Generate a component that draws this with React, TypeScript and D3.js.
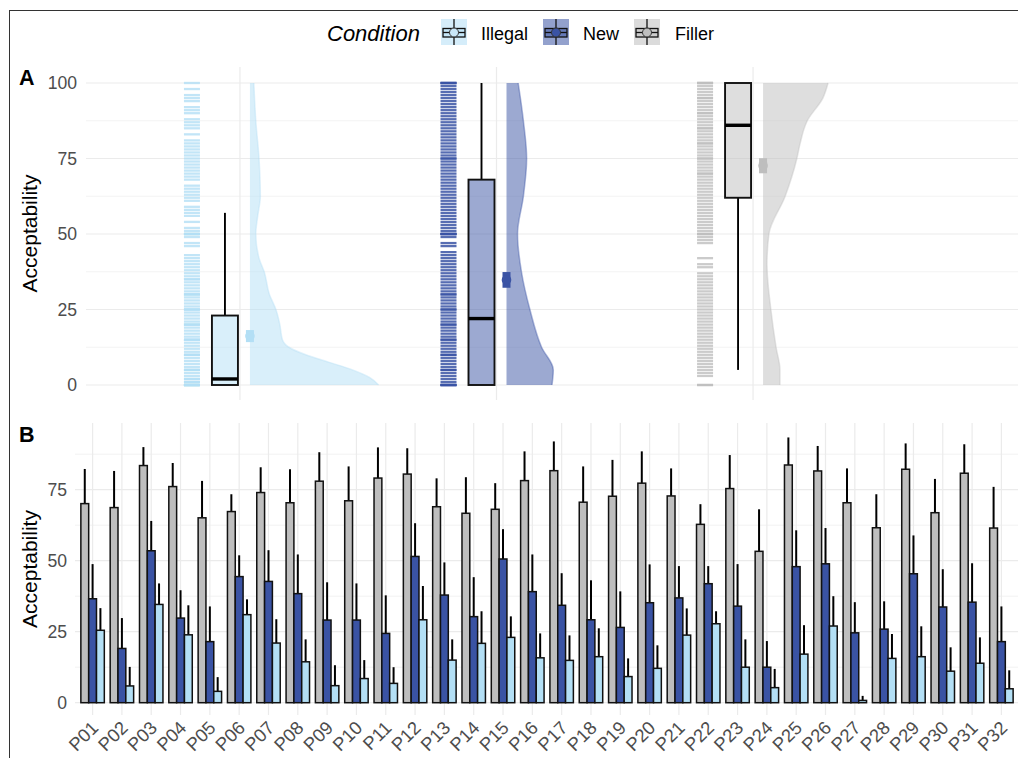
import React, { useEffect, useRef } from 'react';
import * as d3 from 'd3';

// ---- data ----
const conditions = ['Illegal', 'New', 'Filler'];
const condColors: Record<string, string> = { Illegal: '#b3dff5', New: '#3a53a4', Filler: '#bebebe' };

// panel A: single ratings (rug)
const illegalRatings = [
  100, 98, 96, 95, 94, 92, 91, 90, 88, 87, 86, 85, 83, 81, 80, 79, 78, 77, 76, 75, 74, 73, 72, 71, 70,
  69, 68, 66, 65, 64, 63, 62, 61, 59, 58, 57, 56, 54, 52, 51, 50, 50, 50, 50, 49, 47, 46, 43, 42, 41, 40,
  39, 38, 37, 36, 35, 35, 34, 33, 32, 31, 30, 30, 30, 29, 28, 27, 26, 25, 25, 25, 24, 23, 22, 21, 20, 20,
  20, 19, 18, 17, 16, 15, 15, 15, 14, 13, 12, 11, 10, 10, 10, 9, 8, 7, 6, 5, 5, 5, 4, 3, 2, 2, 1, 1,
  0, 0, 0, 0, 0, 0
];
const newRatings = [
  100, 100, 100, 99, 98, 97, 96, 95, 94, 93, 92, 91, 90, 89, 88, 87, 86, 85, 84, 83, 82, 81, 80,
  79, 78, 77, 76, 75, 75, 74, 73, 72, 71, 70, 69, 68, 67, 66, 65, 64, 63, 62, 61, 60,
  59, 58, 57, 56, 55, 54, 53, 52, 51, 50, 50, 50, 50, 49, 47, 46, 44, 43, 42, 41, 40,
  39, 38, 37, 36, 35, 34, 33, 32, 31, 30, 30, 29, 28, 27, 26, 25, 25, 24, 23, 22, 21, 20, 20,
  19, 18, 17, 16, 15, 15, 14, 13, 12, 11, 10, 10, 9, 8, 7, 6, 5, 5, 4, 3, 2, 1, 0, 0, 0, 0
];
const fillerRatings = [
  100, 100, 100, 99, 98, 97, 96, 95, 95, 94, 93, 92, 91, 90, 90, 89, 88, 87, 86, 85, 85, 84, 83, 82, 81, 80,
  80, 79, 78, 77, 76, 75, 75, 74, 73, 72, 71, 70, 70, 69, 68, 67, 66, 65, 64, 63, 62, 61, 60,
  59, 58, 57, 56, 55, 54, 53, 52, 51, 50, 50, 50, 49, 48, 47, 42, 40, 39, 37,
  36, 35, 34, 33, 32, 31, 30, 29, 28, 27, 26, 25, 24, 23, 22, 21, 20, 19, 18, 17, 16,
  15, 14, 13, 12, 11, 10, 9, 8, 7, 6, 5, 4, 3, 0, 0
];

// boxplot stats: [lower whisker, q1, median, q3, upper whisker]
const illegalBox = [0, 0, 2, 23, 57];
const newBox = [0, 0, 22, 68, 100];
const fillerBox = [5, 62, 86, 100, 100];

// condition means and standard errors
const condMeans = [16.2, 34.8, 72.6];
const condSE = [2.0, 2.6, 2.5];

// density profiles: [rating, relative density]
const illegalDensity = [
  [0, 0.99], [2.5, 0.92], [5, 0.79], [7.5, 0.61], [10, 0.43], [12.5, 0.3], [15, 0.25], [20, 0.23],
  [25, 0.2], [30, 0.15], [37.5, 0.11], [42, 0.07], [50, 0.045], [56, 0.06], [62.5, 0.08], [75, 0.07],
  [87.5, 0.045], [100, 0.03]
];
const newDensity = [
  [0, 0.35], [5, 0.36], [12.5, 0.27], [25, 0.18], [37.5, 0.115], [50, 0.085], [62.5, 0.13],
  [75, 0.155], [87.5, 0.13], [100, 0.09]
];
const fillerDensity = [
  [0, 0.13], [5, 0.13], [12.5, 0.1], [25, 0.06], [40, 0.03], [50, 0.045], [62.5, 0.17], [75, 0.26],
  [80, 0.285], [87.5, 0.34], [95, 0.46], [100, 0.5]
];

// panel B: per-participant means and upper error limits
const participants = [
  'P01', 'P02', 'P03', 'P04', 'P05', 'P06', 'P07', 'P08', 'P09', 'P10', 'P11', 'P12', 'P13', 'P14', 'P15', 'P16',
  'P17', 'P18', 'P19', 'P20', 'P21', 'P22', 'P23', 'P24', 'P25', 'P26', 'P27', 'P28', 'P29', 'P30', 'P31', 'P32'
];
const fillerMeans = [70.1, 68.7, 83.5, 76.1, 65.1, 67.3, 74.0, 70.4, 78.0, 71.1, 79.1, 80.5, 69.0, 66.7, 68.1, 78.2,
  81.7, 70.6, 72.7, 77.3, 72.8, 62.8, 75.4, 53.3, 83.7, 81.6, 70.4, 61.6, 82.2, 66.9, 80.8, 61.5];
const fillerUpper = [82.3, 81.6, 90.0, 84.4, 78.1, 73.4, 82.9, 82.2, 88.2, 83.2, 89.9, 89.6, 79.0, 79.4, 77.3, 88.5,
  92.0, 83.2, 85.5, 88.5, 82.5, 69.9, 87.2, 68.1, 93.4, 90.4, 82.5, 73.4, 91.3, 78.8, 91.0, 76.0];
const newMeans = [36.6, 19.1, 53.5, 29.8, 21.5, 44.4, 42.7, 38.4, 29.1, 29.1, 24.4, 51.5, 37.9, 30.3, 50.6, 39.1,
  34.3, 29.2, 26.5, 35.2, 36.9, 41.9, 34.0, 12.5, 47.9, 48.9, 24.6, 25.9, 45.4, 33.7, 35.4, 21.5];
const newUpper = [48.8, 29.8, 64.0, 39.6, 33.9, 51.9, 53.7, 52.2, 42.4, 42.0, 37.8, 63.2, 49.4, 44.2, 61.1, 52.2,
  45.6, 43.1, 39.2, 48.7, 48.1, 48.1, 48.8, 21.7, 60.7, 61.5, 35.4, 35.7, 58.9, 47.0, 49.1, 33.9];
const illegalMeans = [25.5, 5.9, 34.6, 23.9, 4.0, 31.0, 21.0, 14.4, 6.0, 8.5, 6.8, 29.2, 15.0, 20.9, 23.0, 15.8,
  14.9, 16.2, 9.2, 12.1, 23.8, 27.8, 12.5, 5.3, 17.1, 27.0, 0.8, 15.6, 16.2, 11.1, 13.9, 4.9];
const illegalUpper = [33.3, 12.6, 42.0, 34.3, 9.0, 36.4, 29.4, 22.3, 13.2, 15.0, 12.5, 41.1, 22.3, 32.2, 30.4, 24.4,
  23.7, 26.2, 15.6, 20.2, 33.2, 32.2, 22.3, 11.9, 27.3, 37.5, 2.4, 24.2, 26.9, 19.5, 23.0, 11.4];

const yTicks = [0, 25, 50, 75, 100];
const minorTicks = [12.5, 37.5, 62.5, 87.5];

const font = '"Liberation Sans", Arial, Helvetica, sans-serif';

function App() {
  const ref = useRef<SVGSVGElement>(null);

  useEffect(() => {
    document.body.style.margin = '0';
    const svg = d3.select(ref.current);
    svg.selectAll('*').remove();

    // figure border
    svg.append('rect')
      .attr('x', 9.5).attr('y', 10.5).attr('width', 1030).attr('height', 770)
      .attr('fill', 'none').attr('stroke', '#333').attr('stroke-width', 1);

    // ---------- legend ----------
    const legend = svg.append('g');
    legend.append('text')
      .attr('x', 327).attr('y', 41)
      .attr('font-size', 22).attr('font-style', 'italic').text('Condition');
    const keyX = [441, 543, 634];
    const labX = [481, 583, 675];
    conditions.forEach((c, i) => {
      const g = legend.append('g').attr('transform', `translate(${keyX[i]},19)`);
      g.append('rect').attr('width', 26).attr('height', 26)
        .attr('fill', condColors[c]).attr('fill-opacity', 0.55);
      g.append('line').attr('x1', 13).attr('x2', 13).attr('y1', 0).attr('y2', 26)
        .attr('stroke', '#111').attr('stroke-width', 1.3);
      g.append('rect').attr('x', 2).attr('y', 9.5).attr('width', 22).attr('height', 8.5)
        .attr('fill', condColors[c]).attr('fill-opacity', 0.5)
        .attr('stroke', '#111').attr('stroke-width', 1.3);
      g.append('line').attr('x1', 2).attr('x2', 24).attr('y1', 13.5).attr('y2', 13.5)
        .attr('stroke', '#111').attr('stroke-width', 1.3);
      g.append('circle').attr('cx', 13).attr('cy', 13.5).attr('r', 4.5)
        .attr('fill', c === 'Illegal' ? '#c9e7f8' : condColors[c]).attr('stroke', '#333').attr('stroke-width', 1);
      legend.append('text').attr('x', labX[i]).attr('y', 40)
        .attr('font-size', 18).text(c);
    });

    // ---------- panel A ----------
    const aLeft = 86, aRight = 1019, aTop = 67, aBottom = 400;
    const xA = d3.scalePoint<string>().domain(conditions).range([86, 907]).padding(0.6);
    const yA = d3.scaleLinear().domain([0, 100]).range([385, 83]);
    const wA = d3.scaleLinear().domain([0, 1]).range([0, 130]);

    const gA = svg.append('g');
    gA.selectAll('line.minor').data(minorTicks).join('line')
      .attr('x1', aLeft).attr('x2', aRight)
      .attr('y1', d => yA(d)).attr('y2', d => yA(d))
      .attr('stroke', '#ebebeb').attr('stroke-width', 0.6);
    gA.selectAll('line.major').data(yTicks).join('line')
      .attr('x1', aLeft).attr('x2', aRight)
      .attr('y1', d => yA(d)).attr('y2', d => yA(d))
      .attr('stroke', '#ebebeb').attr('stroke-width', 1.2);
    gA.selectAll('line.vmajor').data(conditions).join('line')
      .attr('x1', d => xA(d)!).attr('x2', d => xA(d)!)
      .attr('y1', aTop).attr('y2', aBottom)
      .attr('stroke', '#ebebeb').attr('stroke-width', 1.2);

    gA.selectAll('text.ytick').data(yTicks).join('text')
      .attr('x', 77).attr('y', d => yA(d))
      .attr('text-anchor', 'end').attr('dominant-baseline', 'central')
      .attr('font-size', 17.6).attr('fill', '#4d4d4d').text(d => d);

    gA.append('text')
      .attr('transform', `translate(37,${(aTop + aBottom) / 2}) rotate(-90)`)
      .attr('text-anchor', 'middle').attr('font-size', 21).text('Acceptability');
    gA.append('text').attr('x', 19).attr('y', 85)
      .attr('font-size', 21.5).attr('font-weight', 'bold').text('A');

    const ratings = [illegalRatings, newRatings, fillerRatings];
    const boxes = [illegalBox, newBox, fillerBox];
    const densities = [illegalDensity, newDensity, fillerDensity];

    conditions.forEach((c, i) => {
      const cx = xA(c)!;
      const col = condColors[c];

      // rug of single ratings
      gA.append('g').selectAll('line').data(ratings[i]).join('line')
        .attr('x1', cx - 56).attr('x2', cx - 40)
        .attr('y1', d => yA(d)).attr('y2', d => yA(d))
        .attr('stroke', col).attr('stroke-opacity', c === 'New' ? 0.85 : 0.8).attr('stroke-width', 2.3);

      // half violin
      const area = d3.area<number[]>()
        .y(d => yA(d[0]))
        .x0(cx + 10)
        .x1(d => cx + 10 + wA(d[1]))
        .curve(d3.curveMonotoneY);
      const line = d3.line<number[]>()
        .y(d => yA(d[0]))
        .x(d => cx + 10 + wA(d[1]))
        .curve(d3.curveMonotoneY);
      gA.append('path').attr('d', area(densities[i] as number[][])!)
        .attr('fill', col).attr('fill-opacity', 0.5);
      gA.append('path').attr('d', line(densities[i] as number[][])!)
        .attr('fill', 'none').attr('stroke', col).attr('stroke-opacity', 0.4).attr('stroke-width', 1.5);

      // boxplot
      const [lo, q1, med, q3, hi] = boxes[i];
      const bx = cx - 28, bw = 26, bc = cx - 15;
      gA.append('line').attr('x1', bc).attr('x2', bc).attr('y1', yA(q3)).attr('y2', yA(hi))
        .attr('stroke', '#000').attr('stroke-width', 1.9);
      gA.append('line').attr('x1', bc).attr('x2', bc).attr('y1', yA(q1)).attr('y2', yA(lo))
        .attr('stroke', '#000').attr('stroke-width', 1.9);
      gA.append('rect').attr('x', bx).attr('y', yA(q3)).attr('width', bw).attr('height', yA(q1) - yA(q3))
        .attr('fill', col).attr('fill-opacity', 0.5).attr('stroke', '#111').attr('stroke-width', 1.9);
      gA.append('line').attr('x1', bx).attr('x2', bx + bw).attr('y1', yA(med)).attr('y2', yA(med))
        .attr('stroke', '#000').attr('stroke-width', 3.4);

      // mean +- se
      const m = condMeans[i], se = condSE[i];
      gA.append('rect').attr('x', cx + 6).attr('y', yA(m + se)).attr('width', 8)
        .attr('height', yA(m - se) - yA(m + se)).attr('fill', col);
      gA.append('circle').attr('cx', cx + 10).attr('cy', yA(m)).attr('r', 4.8).attr('fill', col);
    });

    // ---------- panel B ----------
    const bLeft = 75, bRight = 1019, bTop = 423, bBottom = 715;
    const xB = d3.scaleBand<string>().domain(participants).range([bLeft, bRight])
      .paddingInner(0).paddingOuter(0.1);
    const step = xB.step();
    const groups = ['Filler', 'New', 'Illegal'];
    const xInner = d3.scaleBand<string>().domain(groups).range([step * 0.1, step * 0.9]);
    const yB = d3.scaleLinear().domain([0, 75]).range([702.7, 489.7]);

    const gB = svg.append('g');
    gB.selectAll('line.minor').data(minorTicks).join('line')
      .attr('x1', bLeft).attr('x2', bRight)
      .attr('y1', d => yB(d)).attr('y2', d => yB(d))
      .attr('stroke', '#ebebeb').attr('stroke-width', 0.6);
    gB.selectAll('line.major').data(yTicks.slice(0, 4)).join('line')
      .attr('x1', bLeft).attr('x2', bRight)
      .attr('y1', d => yB(d)).attr('y2', d => yB(d))
      .attr('stroke', '#ebebeb').attr('stroke-width', 1.2);
    gB.selectAll('line.vmajor').data(participants).join('line')
      .attr('x1', d => xB(d)! + step / 2).attr('x2', d => xB(d)! + step / 2)
      .attr('y1', bTop).attr('y2', bBottom)
      .attr('stroke', '#ebebeb').attr('stroke-width', 1.2);

    gB.selectAll('text.ytick').data(yTicks.slice(0, 4)).join('text')
      .attr('x', 67).attr('y', d => yB(d))
      .attr('text-anchor', 'end').attr('dominant-baseline', 'central')
      .attr('font-size', 17.6).attr('fill', '#4d4d4d').text(d => d);

    gB.selectAll('text.xtick').data(participants).join('text')
      .attr('transform', d => {
        const ax = xB(d)! + step / 2 + 7, ay = 729;
        return `translate(${ax},${ay}) rotate(-45)`;
      })
      .attr('text-anchor', 'end')
      .attr('font-size', 18.4).attr('fill', '#4d4d4d').text(d => d);

    gB.append('text')
      .attr('transform', `translate(37,${(bTop + bBottom) / 2}) rotate(-90)`)
      .attr('text-anchor', 'middle').attr('font-size', 21).text('Acceptability');
    gB.append('text').attr('x', 19).attr('y', 442)
      .attr('font-size', 21.5).attr('font-weight', 'bold').text('B');

    const rows = participants.flatMap((p, i) => [
      { p, cond: 'Filler', mean: fillerMeans[i], upper: fillerUpper[i] },
      { p, cond: 'New', mean: newMeans[i], upper: newUpper[i] },
      { p, cond: 'Illegal', mean: illegalMeans[i], upper: illegalUpper[i] },
    ]);

    gB.append('g').selectAll('line').data(rows).join('line')
      .attr('x1', d => xB(d.p)! + xInner(d.cond)! + xInner.bandwidth() / 2)
      .attr('x2', d => xB(d.p)! + xInner(d.cond)! + xInner.bandwidth() / 2)
      .attr('y1', d => yB(d.mean)).attr('y2', d => yB(d.upper))
      .attr('stroke', '#000').attr('stroke-width', 2);

    gB.append('g').selectAll('rect').data(rows).join('rect')
      .attr('x', d => xB(d.p)! + xInner(d.cond)!)
      .attr('width', xInner.bandwidth())
      .attr('y', d => yB(d.mean))
      .attr('height', d => yB(0) - yB(d.mean))
      .attr('fill', d => condColors[d.cond])
      .attr('stroke', '#111').attr('stroke-width', 1.5);
  }, []);

  return (
    <svg ref={ref} width={1018} height={758}
      style={{ display: 'block', fontFamily: font, background: '#fff' }} />
  );
}

export default App;
